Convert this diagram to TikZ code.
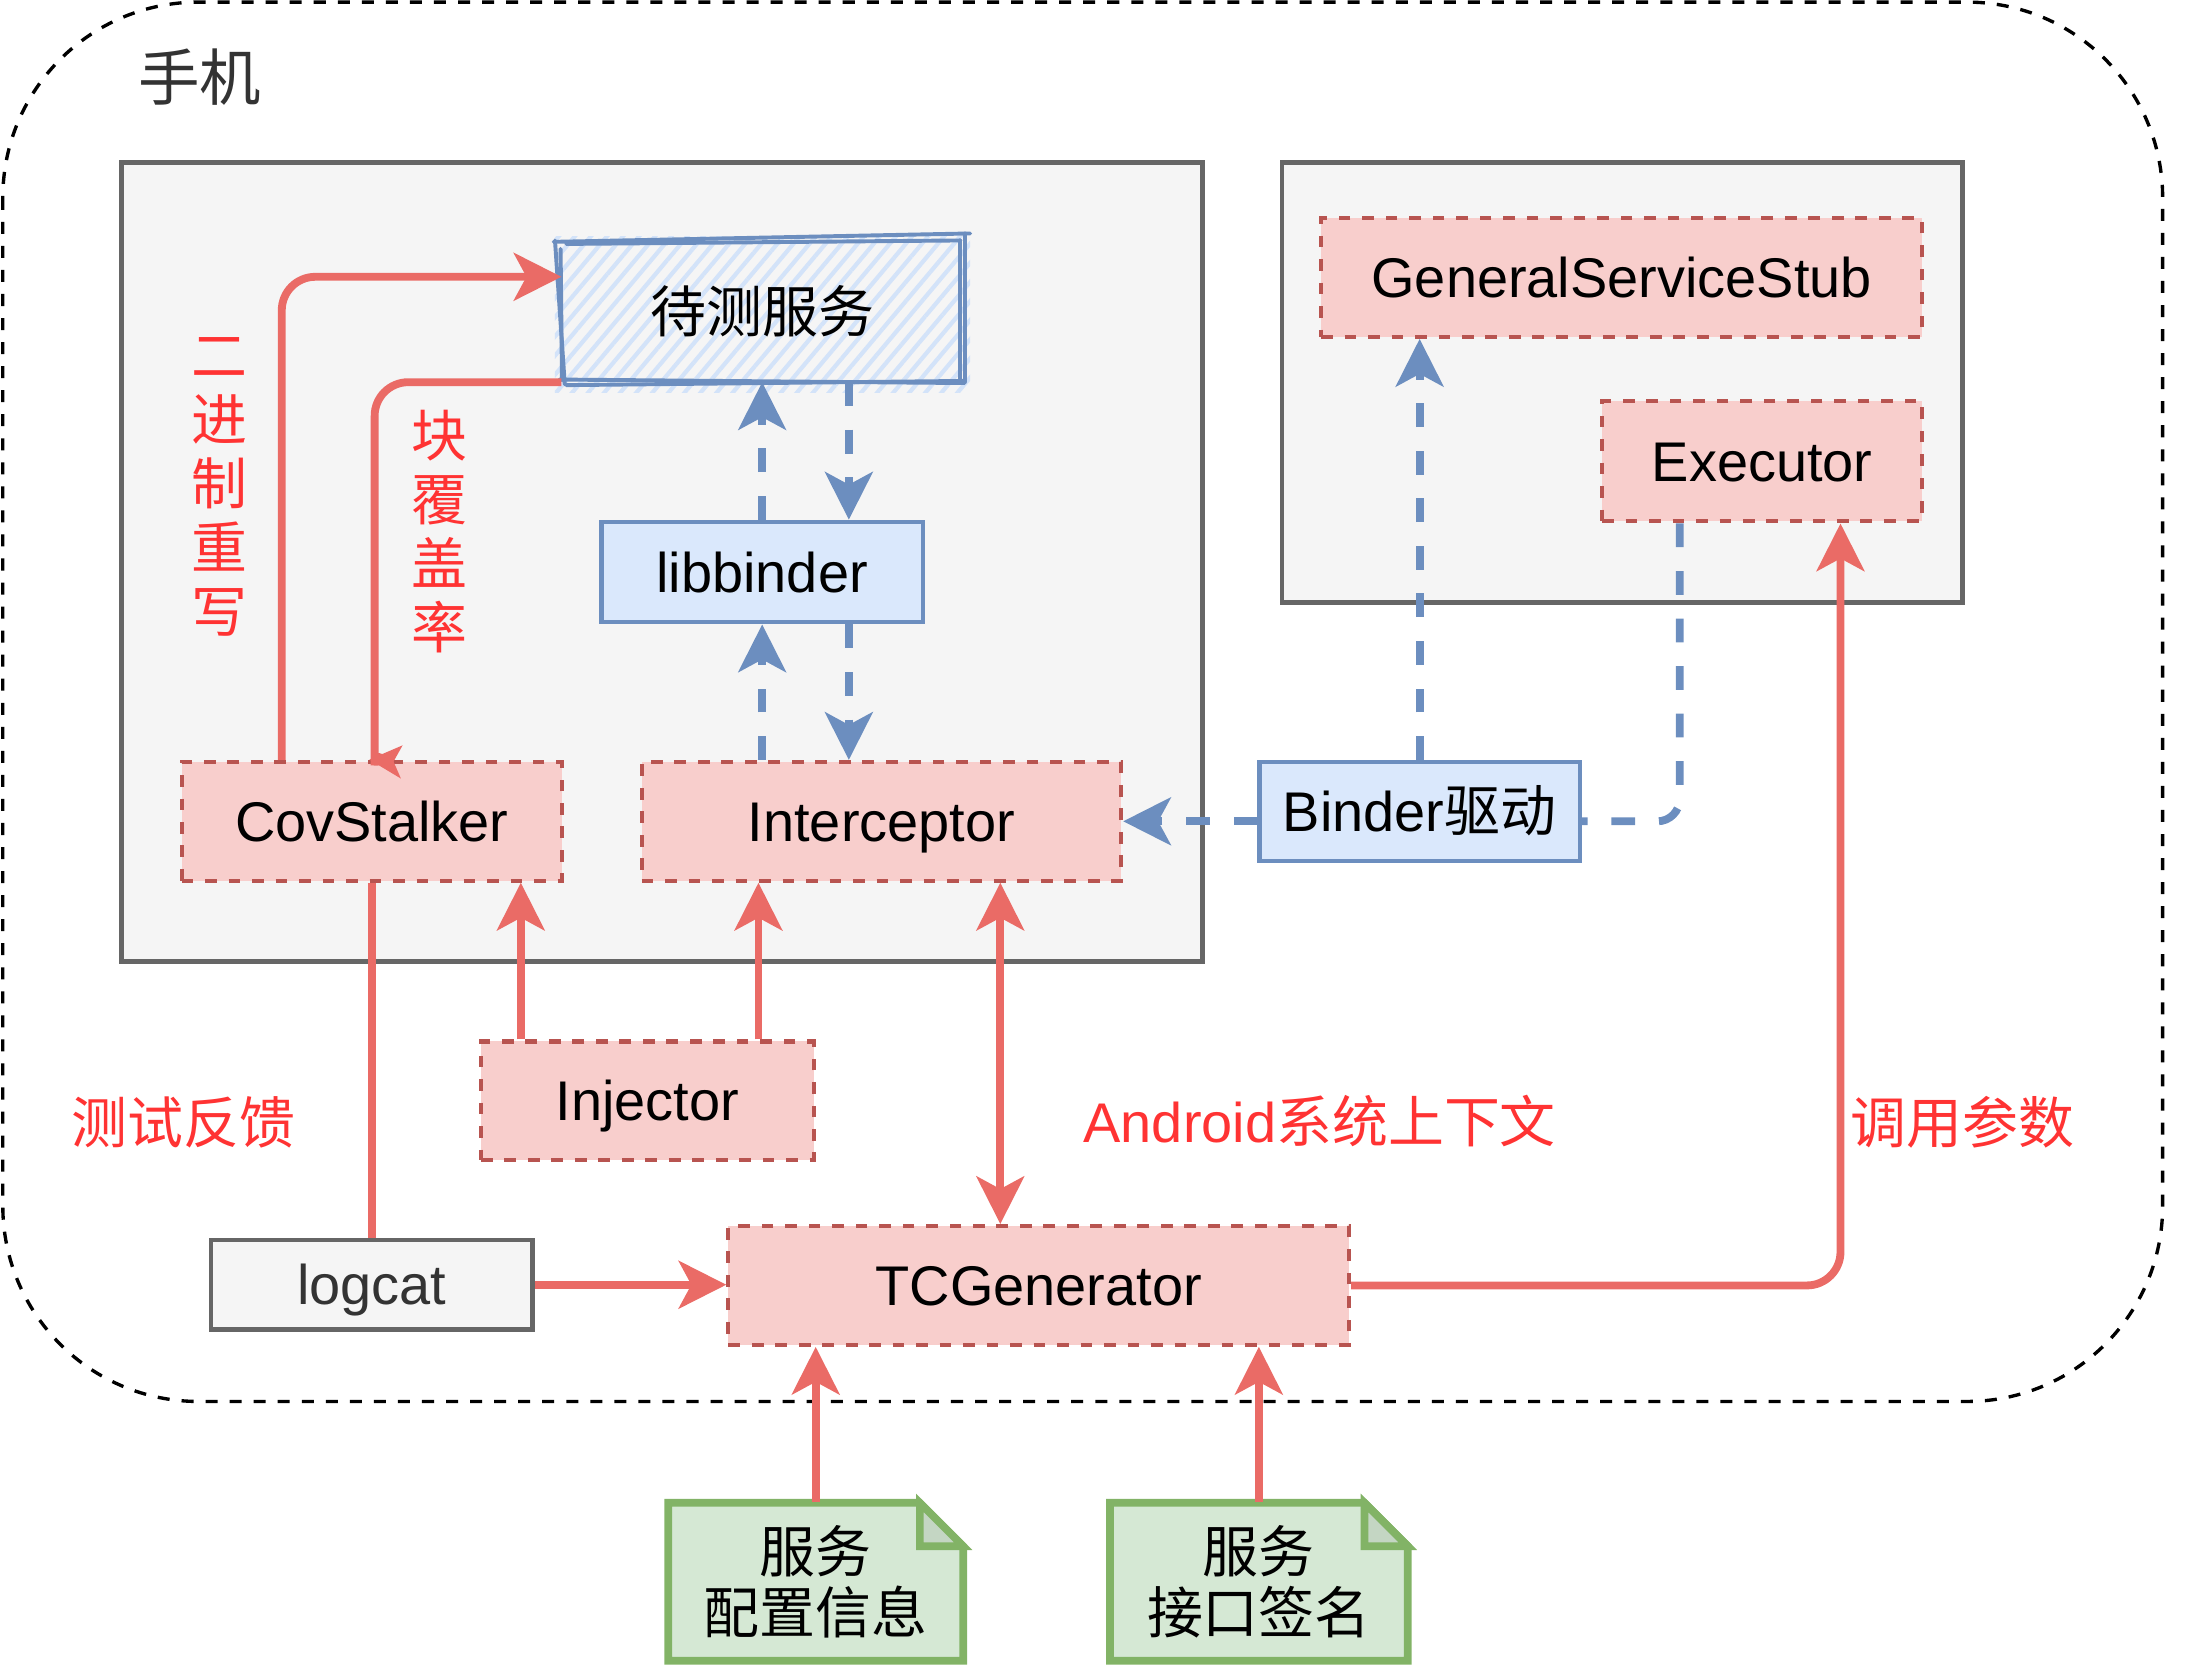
\documentclass[tikz,border=0pt]{standalone}
\usepackage{fontspec}
\setmainfont{Liberation Sans}
\newfontfamily\cjk{Noto Sans CJK SC}
\usetikzlibrary{arrows.meta,patterns.meta,calc}
\definecolor{redfill}{HTML}{F8CECC}
\definecolor{redline}{HTML}{B85450}
\definecolor{bluefill}{HTML}{DAE8FC}
\definecolor{hatchblue}{HTML}{D3E3F9}
\definecolor{blueline}{HTML}{6C8EBF}
\definecolor{greyfill}{HTML}{F5F5F5}
\definecolor{greyline}{HTML}{666666}
\definecolor{greenfill}{HTML}{D5E8D4}
\definecolor{greenline}{HTML}{82B366}
\definecolor{foldfill}{HTML}{C4D6C3}
\definecolor{arrowred}{HTML}{EA6B66}
\definecolor{labelred}{HTML}{FF3333}
\definecolor{darktext}{HTML}{333333}
\begin{document}
\begin{tikzpicture}[x=0.5pt,y=-0.5pt,
  txt/.style={inner sep=0pt, font=\fontsize{20pt}{24pt}\selectfont, text height=14.3pt, text depth=0pt},
  hanbox/.style={text height=16.6pt, text depth=1.4pt},
  redbox/.style={txt, draw=redline, fill=redfill, line width=1.45pt, dash pattern=on 4.2pt off 4.2pt},
  bluebox/.style={txt, draw=blueline, fill=bluefill, line width=1.5pt},
  greybox/.style={txt, draw=greyline, fill=greyfill, line width=1.6pt, text=darktext},
  container/.style={draw=greyline, fill=greyfill, line width=1.7pt},
  frame/.style={draw=black, line width=1.2pt, dash pattern=on 4.3pt off 4.3pt, rounded corners=70pt},
  lbl/.style={txt, text=labelred},
  vlbl/.style={inner sep=0pt, text=labelred, align=center, font=\fontsize{20pt}{22.85pt}\selectfont\cjk},
  notebox/.style={draw=greenline, fill=greenfill, line width=2.75pt, line join=miter},
  notetxt/.style={inner sep=0pt, align=center, font=\fontsize{20pt}{21.5pt}\selectfont\cjk},
  sketch/.style={draw=blueline, line width=1.4pt, line cap=round},
  redE/.style={draw=arrowred, line width=2.8pt},
  redA/.style={redE, -{Stealth[length=17pt,width=17pt,inset=4.5pt]}},
  redAA/.style={redE, {Stealth[length=17pt,width=17pt,inset=4.5pt]}-{Stealth[length=17pt,width=17pt,inset=4.5pt]}},
  blueE/.style={draw=blueline, line width=2.8pt, dash pattern=on 8.5pt off 8.5pt},
  blueA/.style={blueE, -{Stealth[length=17pt,width=17pt,inset=4.5pt]}}
]
\useasboundingbox (0,0) rectangle (1568,1193);

% outer phone frame
\draw[frame] (2,1.5) rectangle (1547,1002.5);
\node[inner sep=0pt, font=\fontsize{22pt}{26pt}\selectfont\cjk, text=darktext] (title) at (143,55) {手机};

% containers
\draw[container] (87,116) rectangle (860,688);
\draw[container] (917,116) rectangle (1404,431);

% sketchy hatched service box
\fill[pattern={Lines[angle=50,distance=4.4pt,line width=1.5pt]}, pattern color=hatchblue] (397,169) rectangle (694,281);
\draw[sketch] (396,173) -- (694,167);
\draw[sketch] (405,174.5) -- (687,172);
\draw[sketch] (397,172) -- (404,275);
\draw[sketch] (401,178) -- (402,272);
\draw[sketch] (690.5,167) -- (690.5,273);
\draw[sketch] (687,172) -- (687,271);
\draw[sketch] (400,271.5) -- (690,274);
\draw[sketch] (405,275.5) -- (689,272.5);
\node[txt, hanbox, minimum width=143.5pt, minimum height=50pt] (svc) at (545.5,223) {\cjk 待测服务};

% nodes
\node[bluebox, minimum width=115pt, minimum height=36pt] (lib) at (545.2,409.2) {libbinder};
\node[redbox, minimum width=136pt, minimum height=42.5pt] (cov) at (266,587.5) {CovStalker};
\node[redbox, minimum width=171.5pt, minimum height=42.5pt] (icp) at (630.5,587.5) {Interceptor};
\node[redbox, minimum width=119pt, minimum height=42.5pt] (inj) at (463,787.5) {Injector};
\node[greybox, minimum width=115pt, minimum height=32pt] (log) at (266,919) {logcat};
\node[redbox, minimum width=222pt, minimum height=42.5pt] (tcg) at (743,919.5) {TCGenerator};
\node[redbox, minimum width=215pt, minimum height=42.5pt] (gss) at (1160,198.5) {GeneralServiceStub};
\node[redbox, minimum width=114.5pt, minimum height=43pt] (exe) at (1260.5,330) {Executor};
\node[bluebox, minimum width=114.5pt, minimum height=35.5pt] (bd) at (1015.5,580.5) {Binder{\cjk 驱动}};

% notes
\draw[notebox] (478,1075) -- (658,1075) -- (689,1106) -- (689,1188) -- (478,1188) -- cycle;
\filldraw[notebox, fill=foldfill] (658,1075) -- (658,1106) -- (689,1106) -- cycle;
\node[notetxt, minimum width=105.5pt, minimum height=56.5pt] (n1) at (583.5,1131.5) {服务\\配置信息};
\draw[notebox] (794,1075) -- (976,1075) -- (1007,1106) -- (1007,1188) -- (794,1188) -- cycle;
\filldraw[notebox, fill=foldfill] (976,1075) -- (976,1106) -- (1007,1106) -- cycle;
\node[notetxt, minimum width=106.5pt, minimum height=56.5pt] (n2) at (900.5,1131.5) {服务\\接口签名};

% labels
\node[lbl, hanbox] (fb) at (131,803) {\cjk 测试反馈};
\node[lbl] (ctx) at (944,803) {Android{\cjk 系统上下文}};
\node[lbl, hanbox] (arg) at (1404,803) {\cjk 调用参数};
\node[vlbl] (rw) at (157,346) {\vphantom{进}二\\进\\制\\重\\写};
\node[vlbl] (bc) at (314.7,380) {块\\覆\\盖\\率};

% red connectors
\draw[redA, rounded corners=12pt] ($(cov.north west)+(73,0)$) |- ($(svc.west)+(0,-25)$);
\draw[redE, rounded corners=12pt] (svc.south west) -| ($(cov.north)+(2,-20)$) .. controls ($(cov.north)+(2,-7)$) and ($(cov.north)+(6,0)$) .. ($(cov.north)+(15.5,1.2)$);
\fill[arrowred] ($(cov.north)+(-1.8,-0.2)$) -- ($(cov.north)+(22,-10.4)$) -- ($(cov.north)+(15.5,1.2)$) -- ($(cov.north)+(20.8,13.4)$) -- cycle;
\draw[redA] ($(inj.north west)+(30,0)$) -- ($(cov.south west)+(244,0)$);
\draw[redA] ($(inj.north west)+(200,0)$) -- ($(icp.south west)+(85,0)$);
\draw[redAA] ($(icp.south west)+(258,0)$) -- ($(tcg.north west)+(196,0)$);
\draw[redE] (cov.south) -- (log.north);
\draw[redA] (log.east) -- (log.east -| tcg.west);
\draw[redA, rounded corners=12pt] (tcg.east) -| ($(exe.south west)+(172,0)$);
\draw[redA] (n1.north) -- (n1.north |- tcg.south);
\draw[redA] (n2.north) -- (n2.north |- tcg.south);

% blue connectors
\coordinate (lr) at ($(lib.north)+(62,0)$);
\coordinate (lr2) at ($(lib.south)+(62,0)$);
\coordinate (ex) at ($(exe.south west)+(57,0)$);
\draw[blueA] (lib.north) -- (lib.north |- svc.south);
\draw[blueA] (lr |- svc.south) -- (lr);
\draw[blueA] (lib.south |- icp.north) -- (lib.south);
\draw[blueA] (lr2) -- (lr2 |- icp.north);
\draw[blueA] (bd.west |- icp.east) -- (icp.east);
\draw[blueA] (bd.north) -- (bd.north |- gss.south);
\draw[blueE, rounded corners=8pt] (ex) |- (bd.east |- icp.east);
\end{tikzpicture}
\end{document}
